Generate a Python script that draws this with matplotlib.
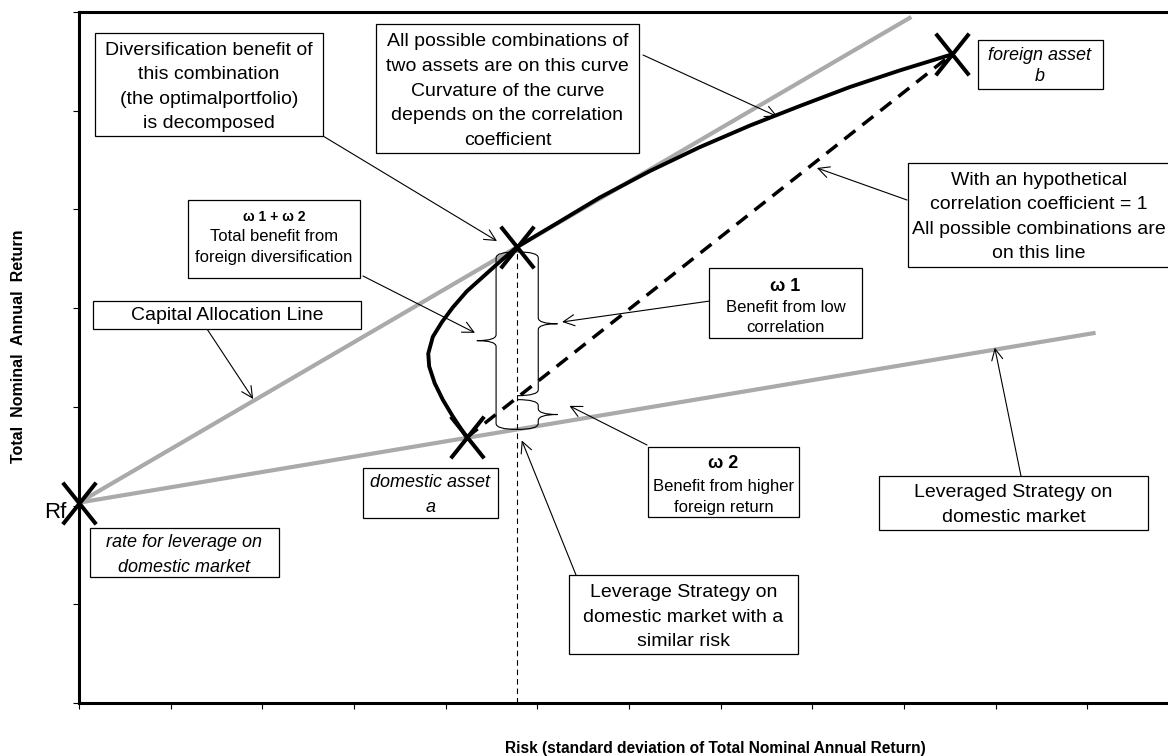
import matplotlib as mpl
mpl.use('Agg')
import matplotlib.pyplot as plt
import numpy as np
from matplotlib.patches import PathPatch, Rectangle
from matplotlib.path import Path

# Rf, domestic asset a, optimal portfolio, foreign asset b
asset_risk = [0.0, 4.23, 4.78, 9.52]
asset_return = [2.03, 2.69, 4.62, 6.57]

frontier_risk = [4.23, 4.08, 3.97, 3.88, 3.82, 3.81, 3.86, 3.96, 4.08, 4.23,
                 4.41, 4.59, 4.78, 5.25, 5.68, 6.23, 6.77, 7.32, 7.87, 8.41,
                 8.96, 9.52]
frontier_return = [2.69, 2.90, 3.07, 3.24, 3.41, 3.54, 3.71, 3.86, 4.01, 4.17,
                   4.32, 4.47, 4.62, 4.88, 5.12, 5.39, 5.63, 5.85, 6.05, 6.24,
                   6.41, 6.57]

cal_risk = [0.0, 9.08]
cal_return = [2.03, 6.95]
leverage_risk = [0.0, 11.09]
leverage_return = [2.03, 3.75]

x_ticks = np.arange(0, 13)
y_ticks = np.arange(0, 8)

W, H = 1168, 756
GREY = '#aaaaaa'

plt.rcParams['font.family'] = ['Liberation Sans', 'DejaVu Sans']

fig = plt.figure(figsize=(W / 100, H / 100), dpi=100)
fig.patch.set_facecolor('white')
# axes runs a little past the right edge of the picture, as in the original
ax = fig.add_axes([79 / W, 53 / H, 1100 / W, 691 / H])
ax.set_xlim(0, 12)
ax.set_ylim(0, 7)


def fig_xy(px, py):
    return px / W, 1 - py / H


def box(x0, y0, x1, y1):
    fig.add_artist(Rectangle(fig_xy(x0, y1), (x1 - x0) / W, (y1 - y0) / H,
                             transform=fig.transFigure, facecolor='white',
                             edgecolor='black', lw=0.9, zorder=5))


def label(px, py, text, **kw):
    fig.text(*fig_xy(px, py), text, ha='center', va='center', zorder=6, **kw)


def arrow(px, py, target):
    ax.annotate('', xy=target, xycoords='data', xytext=fig_xy(px, py),
                textcoords='figure fraction', annotation_clip=False,
                arrowprops=dict(arrowstyle='->,head_length=0.4,head_width=0.2',
                                lw=0.8, color='black', shrinkA=0, shrinkB=0,
                                mutation_scale=20))


def brace(x, y0, y1, side, body=0.23, tip=0.44, r=0.06):
    xv = x + side * body
    xt = x + side * tip
    ym = (y0 + y1) / 2
    verts = [(x, y1), (xv, y1), (xv, y1 - r),
             (xv, ym + r), (xv, ym), (xt, ym),
             (xv, ym), (xv, ym - r),
             (xv, y0 + r), (xv, y0), (x, y0)]
    codes = [Path.MOVETO, Path.CURVE3, Path.CURVE3,
             Path.LINETO, Path.CURVE3, Path.CURVE3,
             Path.CURVE3, Path.CURVE3,
             Path.LINETO, Path.CURVE3, Path.CURVE3]
    ax.add_patch(PathPatch(Path(verts, codes), facecolor='none',
                           edgecolor='black', lw=0.8, zorder=3))


# lines
ax.plot(cal_risk, cal_return, color=GREY, lw=3, solid_capstyle='butt',
        zorder=2)
ax.plot(leverage_risk, leverage_return, color=GREY, lw=3,
        solid_capstyle='butt', zorder=2)
ax.plot([asset_risk[1], asset_risk[3]], [asset_return[1], asset_return[3]],
        color='black', lw=2.5, ls=(0, (4, 2.6)), zorder=3)
ax.plot([asset_risk[2], asset_risk[2]], [0, asset_return[2]], color='black',
        lw=0.8, ls=(0, (5, 3.5)), zorder=3)
ax.plot(frontier_risk, frontier_return, color='black', lw=2.8,
        solid_joinstyle='round', zorder=4)

cross = Path([(-0.8, -1), (0.8, 1), (-0.8, 1), (0.8, -1)],
             [Path.MOVETO, Path.LINETO, Path.MOVETO, Path.LINETO])
ax.plot(asset_risk, asset_return, ls='none', marker=cross, ms=30, mew=2.9,
        mec='black', clip_on=False, zorder=6)

# braces splitting the benefit at the risk of the optimal portfolio
x_opt = asset_risk[2]
top = asset_return[2] - 0.05
split = np.interp(x_opt, [asset_risk[1], asset_risk[3]],
                  [asset_return[1], asset_return[3]])
bottom = np.interp(x_opt, leverage_risk, leverage_return)
brace(x_opt, bottom, top, -1)
brace(x_opt, split + 0.02, top, 1)
brace(x_opt, bottom, split - 0.02, 1)

# axes look
for s in ax.spines.values():
    s.set_linewidth(2.2)
ax.set_xticks(x_ticks)
ax.set_yticks(y_ticks)
ax.tick_params(direction='out', length=4, width=0.8, labelbottom=False,
               labelleft=False)

fig.text(*fig_xy(19, 346), 'Total  Nominal  Annual  Return', rotation=90,
         ha='center', va='center', fontsize=11.5, fontweight='bold')
fig.text(*fig_xy(715, 748),
         'Risk (standard deviation of Total Nominal Annual Return)',
         ha='center', va='center', fontsize=11.2, fontweight='bold')
fig.text(*fig_xy(66, 513), 'Rf', ha='right', va='center', fontsize=16)

# annotation boxes and arrows
box(95, 33, 323, 136)
label(209, 87, 'Diversification benefit of\nthis combination\n'
      '(the optimalportfolio)\nis decomposed', fontsize=14, linespacing=1.58)
arrow(323, 136, (4.56, 4.68))

box(376, 24, 639, 153)
label(507.5, 91, 'All possible combinations of\ntwo assets are on this curve\n'
      'Curvature of the curve\ndepends on the correlation\ncoefficient',
      fontsize=14, linespacing=1.58)
arrow(643, 55, (7.62, 5.94))

box(978, 40, 1103, 89)
label(1040, 66, 'foreign asset\nb', fontsize=13, style='italic',
      linespacing=1.35)

box(908, 163, 1172, 267)
label(1039, 217, 'With an hypothetical\ncorrelation coefficient = 1\n'
      'All possible combinations are\non this line', fontsize=14,
      linespacing=1.58)
arrow(907, 200, (8.05, 5.42))

box(709, 268, 862, 338)
label(785.5, 286, 'ω 1', fontsize=13, fontweight='bold')
label(785.5, 317.5, 'Benefit from low\ncorrelation', fontsize=12,
      linespacing=1.38)
arrow(710, 301, (5.27, 3.86))

box(188, 200, 360, 278)
label(274, 217, 'ω 1 + ω 2', fontsize=10, fontweight='bold')
label(274, 247, 'Total benefit from\nforeign diversification', fontsize=12,
      linespacing=1.45)
arrow(363, 276, (4.32, 3.75))

box(93, 301, 361, 329)
label(227, 316, 'Capital Allocation Line', fontsize=14)
arrow(207, 329, (1.90, 3.08))

box(90, 528, 279, 577)
label(184.5, 555, 'rate for leverage on\ndomestic market', fontsize=13,
      style='italic', linespacing=1.58)

box(363, 468, 498, 518)
label(430.5, 495, 'domestic asset\na', fontsize=13, style='italic',
      linespacing=1.55)

box(648, 447, 799, 517)
label(723.5, 463, 'ω 2', fontsize=13, fontweight='bold')
label(723.5, 497, 'Benefit from higher\nforeign return', fontsize=12,
      linespacing=1.45)
arrow(647, 445, (5.35, 3.01))

box(569, 575, 798, 654)
label(683.5, 617, 'Leverage Strategy on\ndomestic market with a\nsimilar risk',
      fontsize=14, linespacing=1.58)
arrow(576, 575, (4.83, 2.66))

box(879, 476, 1148, 530)
label(1013.5, 505, 'Leveraged Strategy on\ndomestic market', fontsize=14,
      linespacing=1.58)
arrow(1021, 476, (9.99, 3.60))

fig.savefig('out.png', dpi=100)
plt.close()
